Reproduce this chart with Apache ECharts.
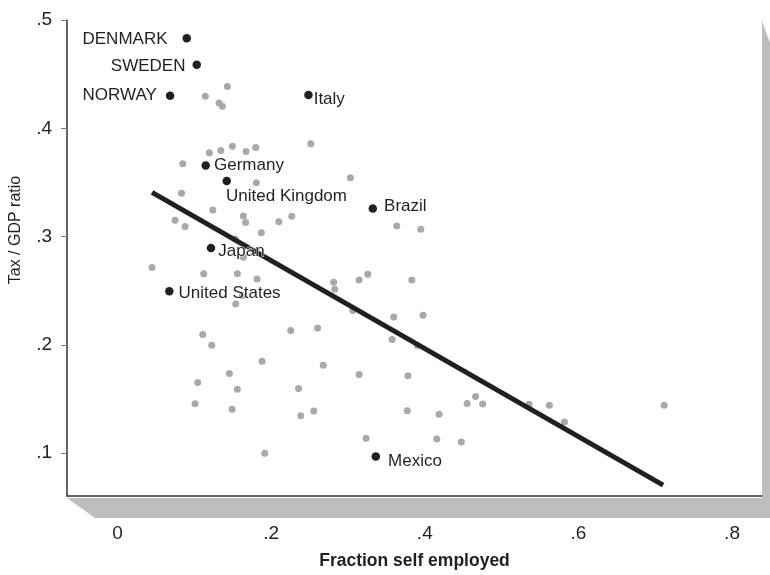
<!DOCTYPE html>
<html>
<head>
<meta charset="utf-8">
<script src="https://cdn.jsdelivr.net/npm/echarts@6/dist/echarts.min.js"></script>
<style>
html,body{margin:0;padding:0;background:#fff;}
#chart{width:770px;height:575px;}
</style>
</head>
<body>
<div id="chart"></div>
<script>
// ---- data ----
var xTicks = [0, 0.2, 0.4, 0.6, 0.8];
var yTicks = [0.1, 0.2, 0.3, 0.4, 0.5];

var otherCountries = [
  [0.1430,0.4387],[0.1143,0.4295],[0.1322,0.4234],[0.1365,0.4203],[0.2516,0.3857],
  [0.1195,0.3774],[0.1344,0.3795],[0.1495,0.3835],[0.1673,0.3786],[0.1799,0.3823],
  [0.0849,0.3673],[0.1807,0.3498],[0.3031,0.3543],[0.0833,0.3400],[0.1240,0.3246],
  [0.1638,0.3190],[0.2268,0.3187],[0.0749,0.3152],[0.1667,0.3131],[0.0879,0.3094],
  [0.2100,0.3138],[0.1872,0.3035],[0.1530,0.2977],[0.1638,0.2809],[0.0449,0.2715],
  [0.1122,0.2657],[0.1560,0.2657],[0.1816,0.2609],[0.1625,0.2456],[0.1539,0.2377],
  [0.2813,0.2579],[0.2828,0.2514],[0.3145,0.2600],[0.3258,0.2652],[0.3063,0.2318],
  [0.3635,0.3099],[0.3948,0.3069],[0.3831,0.2600],[0.3596,0.2257],[0.3978,0.2275],
  [0.3574,0.2051],[0.3904,0.1995],[0.1109,0.2097],[0.1227,0.1996],[0.2255,0.2134],
  [0.2604,0.2156],[0.1882,0.1849],[0.2678,0.1812],[0.3145,0.1726],[0.1456,0.1736],
  [0.1044,0.1653],[0.1560,0.1591],[0.2357,0.1598],[0.3780,0.1715],[0.1009,0.1457],
  [0.1491,0.1405],[0.2385,0.1347],[0.2555,0.1389],[0.3772,0.1393],[0.4186,0.1359],
  [0.4551,0.1460],[0.4661,0.1524],[0.4753,0.1455],[0.3236,0.1138],[0.4156,0.1132],
  [0.4475,0.1104],[0.1917,0.1000],[0.5358,0.1453],[0.5622,0.1444],[0.5818,0.1288],
  [0.7116,0.1444]
];

var namedCountries = ['DENMARK','SWEDEN','NORWAY','Italy','Germany','United Kingdom','Brazil','Japan','United States','Mexico'];
var namedSelfEmployed = [0.0901,0.1031,0.0684,0.2485,0.1148,0.1422,0.3323,0.1217,0.0674,0.3362];
var namedTaxRatio     = [0.4832,0.4586,0.4301,0.4308,0.3657,0.3513,0.3259,0.2894,0.2496,0.0970];

var fitLine = [[0.0449,0.3409],[0.7103,0.0706]];

// ---- styling ----
var FONT = '"Liberation Sans",Arial,sans-serif';
var INK = '#231f20';
var labelPlacement = {
  'DENMARK': {position:'left', distance:15, offset:[0,1]},
  'SWEDEN': {position:'left', distance:7, offset:[0,1]},
  'NORWAY': {position:'left', distance:9, offset:[0,0]},
  'Italy': {position:'right', distance:1, offset:[0,4]},
  'Germany': {position:'right', distance:4, offset:[0,0]},
  'United Kingdom': {position:'right', distance:0, offset:[-5,15]},
  'Brazil': {position:'right', distance:7, offset:[0,-2]},
  'Japan': {position:'right', distance:3, offset:[0,3]},
  'United States': {position:'right', distance:5, offset:[0,2]},
  'Mexico': {position:'right', distance:8, offset:[0,5]}
};

var namedData = namedCountries.map(function(n, i){
  var p = labelPlacement[n];
  return {
    name: n,
    value: [namedSelfEmployed[i], namedTaxRatio[i]],
    label: {show:true, formatter:n, position:p.position, distance:p.distance, offset:p.offset}
  };
});

var chart = echarts.init(document.getElementById('chart'), null, {renderer:'canvas'});

var G = {left:67, top:20, right:8, bottom:77};
var W = 770, H = 575;
var gx1 = G.left, gy1 = G.top, gx2 = W - G.right, gy2 = H - G.bottom;

var option = {
  backgroundColor: '#fff',
  animation: false,
  grid: {left:G.left, top:G.top, right:G.right, bottom:G.bottom, containLabel:false},
  graphic: [
    {
      type:'polygon', z:-10, silent:true,
      shape:{points:[[gx2,gy1+1],[W,gy1+23],[W,gy2+20],[gx1+28,gy2+20],[gx1,gy2],[gx2,gy2]]},
      style:{fill:'#bcbec0'}
    },
    {
      type:'text', silent:true,
      x:16, y:230, rotation:Math.PI/2,
      style:{text:'Tax / GDP ratio', font:'16px ' + FONT, fill:INK, align:'center', verticalAlign:'middle'}
    }
  ],
  xAxis: {
    type:'value', min:-0.0658, max:0.839,
    name:'Fraction self employed', nameLocation:'middle', nameGap:56,
    nameTextStyle:{fontFamily:FONT, fontSize:17.5, fontWeight:'bold', color:INK},
    axisLine:{show:true, onZero:false, lineStyle:{color:'#333', width:1.5}},
    axisTick:{show:false},
    splitLine:{show:false},
    axisLabel:{
      customValues:xTicks, margin:28, fontFamily:FONT, fontSize:19, color:INK,
      formatter:function(v){ return v === 0 ? '0' : String(v).replace(/^0/, ''); }
    }
  },
  yAxis: {
    type:'value', min:0.0605, max:0.5,
    axisLine:{show:true, onZero:false, lineStyle:{color:'#333', width:1.5}},
    axisTick:{show:true, customValues:yTicks, length:6, lineStyle:{color:'#777', width:1}},
    splitLine:{show:false},
    axisLabel:{
      customValues:yTicks, margin:15, fontFamily:FONT, fontSize:19, color:INK,
      formatter:function(v){ return String(Math.round(v*10)/10).replace(/^0/, ''); }
    }
  },
  series: [
    {
      type:'scatter', data:otherCountries, symbolSize:7, z:2,
      itemStyle:{color:'#a7a9ac', opacity:1}, silent:true
    },
    {
      type:'line', data:fitLine, symbol:'none', z:3, silent:true,
      lineStyle:{color:INK, width:5}
    },
    {
      type:'scatter', data:namedData, symbolSize:8.5, z:4, silent:true,
      itemStyle:{color:INK, opacity:1},
      label:{show:true, fontFamily:FONT, fontSize:17, color:INK, textBorderColor:'#fff', textBorderWidth:1}
    }
  ]
};
chart.setOption(option);
</script>
</body>
</html>
